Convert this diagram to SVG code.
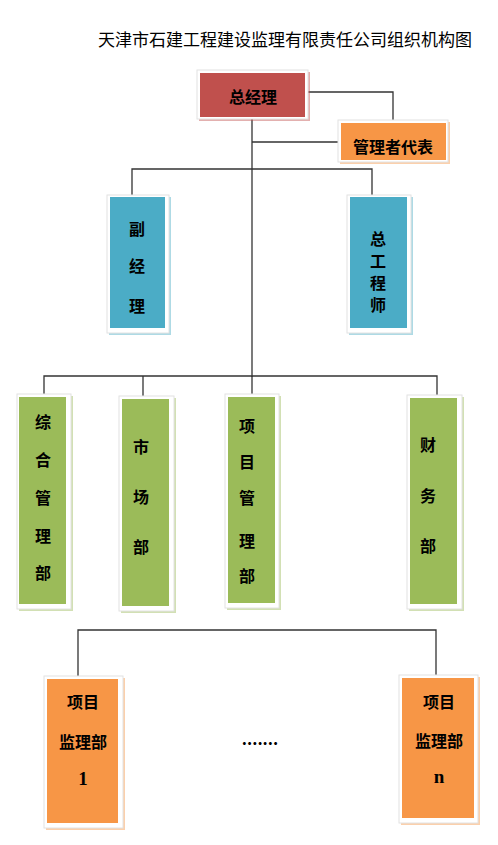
<svg xmlns="http://www.w3.org/2000/svg" width="498" height="845" viewBox="0 0 498 845">
<style>
.sh{opacity:0.45}
.fr{fill:#ffffff;stroke:#e2e2e2;stroke-width:1}
.t{font-family:"Noto Sans CJK SC","Liberation Serif",sans-serif;font-weight:bold;font-size:16px;fill:#000;text-anchor:middle;dominant-baseline:central}
.s{font-family:"Liberation Serif",serif;font-size:19px}
.title{font-family:"Noto Sans CJK SC","Liberation Serif",sans-serif;font-size:17px;fill:#000;dominant-baseline:central}
.c{fill:none;stroke:#333;stroke-width:1.3}
.red{fill:#C0504D}.org{fill:#F79646}.blu{fill:#4BACC6}.grn{fill:#9BBB59}
</style>
<rect width="498" height="845" fill="#fff"/>
<text class="title" x="98" y="38">天津市石建工程建设监理有限责任公司组织机构图</text>
<g id="connectors">
<polyline class="c" points="308,92 393,92 393,120"/>
<line class="c" x1="252" y1="119" x2="252" y2="377"/>
<line class="c" x1="252" y1="142" x2="338" y2="142"/>
<polyline class="c" points="132,197 132,169 372,169 372,197"/>
<polyline class="c" points="44,394 44,376 437,376 437,396"/>
<line class="c" x1="143" y1="376" x2="143" y2="396"/>
<line class="c" x1="252" y1="376" x2="252" y2="395"/>
<polyline class="c" points="78,677 78,630 436,630 436,675"/>
</g>
<g id="n_zjl">
<rect class="red sh" x="199" y="72" width="111" height="49"/>
<rect class="fr" x="197" y="70" width="111" height="49"/>
<rect class="red" x="200" y="73" width="105" height="44"/>
<text class="t" x="253" y="96" font-size="17">总经理</text>
</g>
<g id="n_gldb">
<rect class="org sh" x="340" y="122" width="110" height="42"/>
<rect class="fr" x="338" y="120" width="110" height="42"/>
<rect class="org" x="341" y="123" width="105" height="37"/>
<text class="t" x="393" y="146">管理者代表</text>
</g>
<g id="n_fjl">
<rect class="blu sh" x="109" y="197" width="62" height="138"/>
<rect class="fr" x="107" y="195" width="62" height="138"/>
<rect class="blu" x="110" y="197" width="55" height="131"/>
<text class="t" x="137" y="228">副</text>
<text class="t" x="137" y="265">经</text>
<text class="t" x="137" y="305">理</text>
</g>
<g id="n_zgcs">
<rect class="blu sh" x="349" y="197" width="64" height="138"/>
<rect class="fr" x="347" y="195" width="64" height="138"/>
<rect class="blu" x="350" y="197" width="57" height="131"/>
<text class="t" x="378" y="238">总</text>
<text class="t" x="378" y="260">工</text>
<text class="t" x="378" y="282">程</text>
<text class="t" x="378" y="304">师</text>
</g>
<g id="n_zhglb">
<rect class="grn sh" x="19" y="396" width="54" height="215"/>
<rect class="fr" x="17" y="394" width="54" height="215"/>
<rect class="grn" x="19" y="397" width="47" height="207"/>
<text class="t" x="43" y="421">综</text>
<text class="t" x="43" y="459">合</text>
<text class="t" x="43" y="497">管</text>
<text class="t" x="43" y="535">理</text>
<text class="t" x="43" y="572">部</text>
</g>
<g id="n_scb">
<rect class="grn sh" x="121" y="398" width="55" height="215"/>
<rect class="fr" x="119" y="396" width="55" height="215"/>
<rect class="grn" x="122" y="399" width="47" height="207"/>
<text class="t" x="141" y="446">市</text>
<text class="t" x="141" y="496">场</text>
<text class="t" x="141" y="546">部</text>
</g>
<g id="n_xmglb">
<rect class="grn sh" x="227" y="396" width="54" height="214"/>
<rect class="fr" x="225" y="394" width="54" height="214"/>
<rect class="grn" x="228" y="397" width="47" height="206"/>
<text class="t" x="247" y="425">项</text>
<text class="t" x="247" y="461">目</text>
<text class="t" x="247" y="497">管</text>
<text class="t" x="247" y="540">理</text>
<text class="t" x="247" y="575">部</text>
</g>
<g id="n_cwb">
<rect class="grn sh" x="409" y="397" width="55" height="214"/>
<rect class="fr" x="407" y="395" width="55" height="214"/>
<rect class="grn" x="410" y="398" width="47" height="206"/>
<text class="t" x="428" y="444">财</text>
<text class="t" x="428" y="495">务</text>
<text class="t" x="428" y="545">部</text>
</g>
<g id="n_xmjlb1">
<rect class="org sh" x="46" y="678" width="79" height="152"/>
<rect class="fr" x="44" y="676" width="79" height="152"/>
<rect class="org" x="47" y="679" width="71" height="144"/>
<text class="t" x="83" y="701" font-size="14">项目</text>
<text class="t" x="83" y="741" font-size="15">监理部</text>
<text class="t s" x="83" y="778">1</text>
</g>
<g id="n_dots">
<text class="t" x="260" y="738">.......</text>
</g>
<g id="n_xmjlbn">
<rect class="org sh" x="401" y="677" width="79" height="148"/>
<rect class="fr" x="399" y="675" width="79" height="148"/>
<rect class="org" x="402" y="678" width="72" height="140"/>
<text class="t" x="439" y="701">项目</text>
<text class="t" x="439" y="740">监理部</text>
<text class="t s" x="439" y="776">n</text>
</g>
</svg>
